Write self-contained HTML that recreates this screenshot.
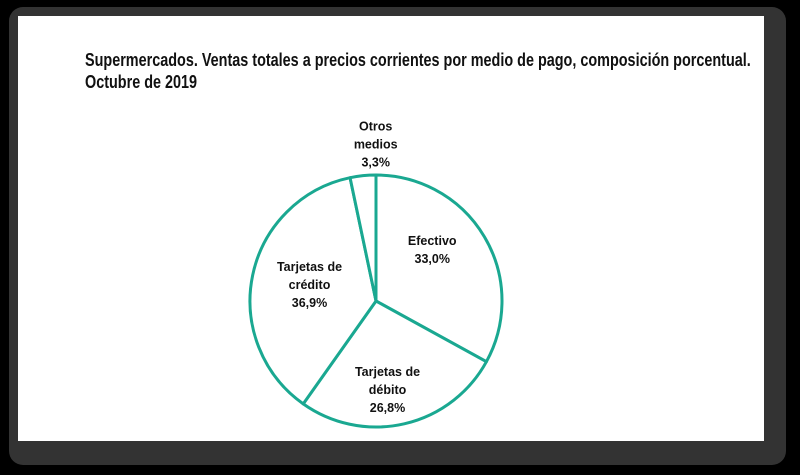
<!DOCTYPE html>
<html><head><meta charset="utf-8"><style>
html,body{margin:0;padding:0;background:#000;width:800px;height:475px;overflow:hidden}
#frame{position:absolute;left:9px;top:7px;width:777px;height:458px;background:#333;border-radius:14px}
#card{position:absolute;left:18px;top:16px;width:746px;height:425px;background:#fff}
#title{position:absolute;left:67px;top:33px;font-family:"Liberation Sans",sans-serif;font-weight:bold;font-size:18px;line-height:22px;color:#111;margin:0;white-space:nowrap;transform:scaleX(0.8);transform-origin:0 0}
svg{position:absolute;left:0;top:0}
text{font-family:"Liberation Sans",sans-serif;font-weight:bold;font-size:12.5px;fill:#111;text-anchor:middle}
</style></head><body>
<div id="frame"></div>
<div id="card">
<p id="title">Supermercados. Ventas totales a precios corrientes por medio de pago, composición porcentual.<br>Octubre de 2019</p>
</div>
<svg id="chart" width="800" height="475"></svg>
<script>
const categories=["Efectivo","Tarjetas de débito","Tarjetas de crédito","Otros medios"];
const values=[33.0,26.8,36.9,3.3];
const labels=["33,0%","26,8%","36,9%","3,3%"];
const labelLines=[["Efectivo"],["Tarjetas de","débito"],["Tarjetas de","crédito"],["Otros","medios"]];
const svg=document.getElementById('chart');
const NS='http://www.w3.org/2000/svg';
const cx=376,cy=301,r=126;
const total=values.reduce((a,b)=>a+b,0);
function pt(frac,rad){const a=frac*2*Math.PI;return [cx+rad*Math.sin(a),cy-rad*Math.cos(a)];}
const labelRad=[0.62,0.62,0.62,1.25];
const labelOff=[[-11,-11],[-6,13],[10,0],[16,0]];
let cum=0;
values.forEach((v,i)=>{
  const s=cum/total,e=(cum+v)/total;cum+=v;
  const p0=pt(s,r),p1=pt(e,r);
  const large=(e-s)>0.5?1:0;
  const path=document.createElementNS(NS,'path');
  path.setAttribute('d',`M${cx},${cy} L${p0[0]},${p0[1]} A${r},${r} 0 ${large} 1 ${p1[0]},${p1[1]} Z`);
  path.setAttribute('fill','#fff');path.setAttribute('stroke','#1aa891');path.setAttribute('stroke-width','3');path.setAttribute('stroke-linejoin','round');
  
  
  svg.appendChild(path);
  const mid=(s+e)/2;
  const lp=pt(mid,r*labelRad[i]);
  lp[0]+=labelOff[i][0];lp[1]+=labelOff[i][1];
  const lines=labelLines[i].concat([labels[i]]);
  const t=document.createElementNS(NS,'text');
  
  
  const y0=lp[1]-(lines.length-1)*9+4;
  lines.forEach((ln,j)=>{const ts=document.createElementNS(NS,'tspan');ts.setAttribute('x',lp[0]);ts.setAttribute('y',y0+j*18);ts.textContent=ln;t.appendChild(ts);});
  svg.appendChild(t);
});
</script>
</body></html>
